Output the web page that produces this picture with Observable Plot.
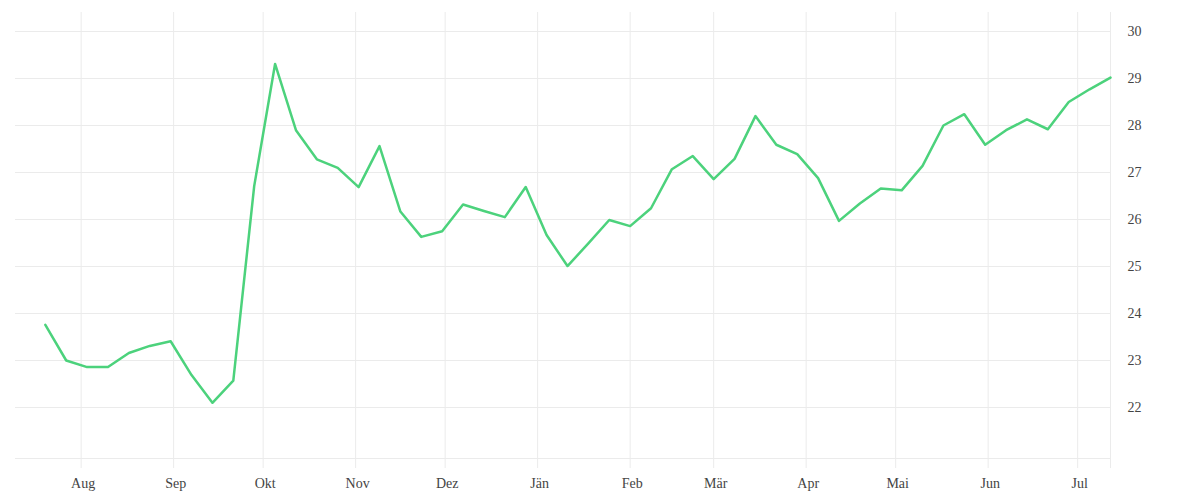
<!DOCTYPE html>
<html>
<head>
<meta charset="utf-8">
<script src="https://cdn.jsdelivr.net/npm/d3@7"></script>
<script src="https://cdn.jsdelivr.net/npm/@observablehq/plot@0.6"></script>
<style>
  html, body { margin: 0; padding: 0; background: #fff; }
</style>
</head>
<body>
<div id="chart"></div>
<script>
const dates = [
  "2022-07-20","2022-07-27","2022-08-03","2022-08-10","2022-08-17","2022-08-24","2022-08-31",
  "2022-09-07","2022-09-14","2022-09-21","2022-09-28","2022-10-05","2022-10-12","2022-10-19",
  "2022-10-26","2022-11-02","2022-11-09","2022-11-16","2022-11-23","2022-11-30","2022-12-07",
  "2022-12-14","2022-12-21","2022-12-28","2023-01-04","2023-01-11","2023-01-18","2023-01-25",
  "2023-02-01","2023-02-08","2023-02-15","2023-02-22","2023-03-01","2023-03-08","2023-03-15",
  "2023-03-22","2023-03-29","2023-04-05","2023-04-12","2023-04-19","2023-04-26","2023-05-03",
  "2023-05-10","2023-05-17","2023-05-24","2023-05-31","2023-06-07","2023-06-14","2023-06-21",
  "2023-06-28","2023-07-05","2023-07-12"
];
const values = [
  23.76, 23.00, 22.86, 22.86, 23.16, 23.31, 23.41, 22.69, 22.10, 22.57,
  26.71, 29.31, 27.90, 27.28, 27.10, 26.69, 27.56, 26.17, 25.63, 25.75,
  26.32, 26.18, 26.05, 26.69, 25.67, 25.01, 25.49, 25.99, 25.86, 26.24,
  27.07, 27.35, 26.86, 27.29, 28.20, 27.59, 27.39, 26.88, 25.97, 26.34,
  26.66, 26.62, 27.14, 28.00, 28.24, 27.59, 27.90, 28.13, 27.92, 28.50,
  28.77, 29.02
];
const monthTicks = [
  "2022-08-01","2022-09-01","2022-10-01","2022-11-01","2022-12-01","2023-01-01",
  "2023-02-01","2023-03-01","2023-04-01","2023-05-01","2023-06-01","2023-07-01"
];
const monthLabels = ["Aug","Sep","Okt","Nov","Dez","Jän","Feb","Mär","Apr","Mai","Jun","Jul"];
const yTicks = [22, 23, 24, 25, 26, 27, 28, 29, 30];
const xDomain = ["2022-07-10T00:00:00Z", "2023-07-12T00:00:00Z"];
const yDomain = [20.915, 30.404];

const data = dates.map((d, i) => ({date: new Date(d + "T00:00:00Z"), value: values[i]}));
const tickDates = monthTicks.map(d => new Date(d + "T00:00:00Z"));
const labelOf = new Map(tickDates.map((d, i) => [+d, monthLabels[i]]));
const xDom = xDomain.map(d => new Date(d));

const grid = "#ebebeb";
const chart = Plot.plot({
  width: 1200,
  height: 500,
  marginLeft: 15,
  marginRight: 90,
  marginTop: 12,
  marginBottom: 42,
  style: {fontFamily: "'Liberation Serif', serif", fontSize: "14px", color: "#444", background: "#fff"},
  x: {type: "utc", domain: xDom, label: null},
  y: {domain: yDomain, label: null},
  marks: [
    Plot.ruleY(yTicks, {stroke: grid, strokeWidth: 1}),
    Plot.ruleY([yDomain[0]], {stroke: grid, strokeWidth: 1}),
    Plot.ruleX(tickDates, {stroke: grid, strokeWidth: 1, insetBottom: -10}),
    Plot.ruleX([xDom[1]], {stroke: grid, strokeWidth: 1, insetBottom: -10}),
    Plot.lineY(data, {x: "date", y: "value", stroke: "#4cd27c", strokeWidth: 2.5}),
    Plot.axisX({ticks: tickDates, tickFormat: d => labelOf.get(+d), tickSize: 0, tickPadding: 20, dx: 2, fill: "#444", fontSize: 14, label: null}),
    Plot.axisY({anchor: "right", ticks: yTicks, tickSize: 0, tickPadding: 17, fill: "#444", fontSize: 14, label: null})
  ]
});
document.getElementById("chart").appendChild(chart);
</script>
</body>
</html>
